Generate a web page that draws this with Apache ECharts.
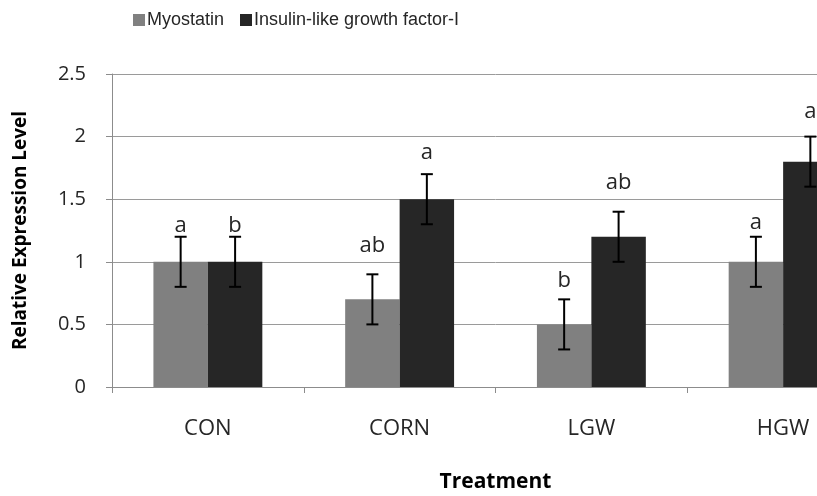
<!DOCTYPE html>
<html>
<head>
<meta charset="utf-8">
<script src="https://cdn.jsdelivr.net/npm/echarts@6/dist/echarts.min.js"></script>
<style>
html,body{margin:0;padding:0;background:#fff;overflow:hidden;width:817px;height:496px;}
#c{width:879px;height:496px;}
</style>
</head>
<body>
<div id="c"></div>
<script>
var categories = ['CON', 'CORN', 'LGW', 'HGW'];
var seriesNames = ['Myostatin', 'Insulin-like growth factor-I'];
var myostatin = [1.0, 0.7, 0.5, 1.0];
var igf = [1.0, 1.5, 1.2, 1.8];
var myostatinErr = [0.2, 0.2, 0.2, 0.2];
var igfErr = [0.2, 0.2, 0.2, 0.2];
var myostatinLetters = ['a', 'ab', 'b', 'a'];
var igfLetters = ['b', 'a', 'ab', 'a'];
var myostatinLetterAt = [1.25, 1.09, 0.81, 1.27];
var igfLetterAt = [1.25, 1.83, 1.59, 2.16];
var yTicks = { min: 0, max: 2.5, interval: 0.5 };

var FONT = "'Open Sans', 'DejaVu Sans', sans-serif";
var LEGEND_FONT = "'Liberation Sans', 'Open Sans', sans-serif";
var BAR_W = 0.284;

function errData(vals, errs, at) {
  return vals.map(function (v, i) { return [i, v, errs[i], at[i]]; });
}

function makeRender(side, letters) {
  return function (params, api) {
    var i = api.value(0);
    var v = api.value(1);
    var e = api.value(2);
    var at = api.value(3);
    var letter = letters[params.dataIndex];
    var band = api.size([1, 0])[0];
    var c = api.coord([i, v]);
    var x = c[0] + side * band * BAR_W / 2;
    var yTop = api.coord([i, v + e])[1];
    var yBot = api.coord([i, v - e])[1];
    var yL = api.coord([i, at])[1];
    var cap = 6;
    var st = { stroke: '#000', lineWidth: 2 };
    return {
      type: 'group',
      children: [
        { type: 'line', shape: { x1: x, y1: yTop, x2: x, y2: yBot }, style: st },
        { type: 'line', shape: { x1: x - cap, y1: yTop, x2: x + cap, y2: yTop }, style: st },
        { type: 'line', shape: { x1: x - cap, y1: yBot, x2: x + cap, y2: yBot }, style: st },
        { type: 'text', style: { text: letter, x: x, y: yL + 6, textAlign: 'center', textVerticalAlign: 'bottom', fontSize: 22, fontFamily: FONT, fill: '#262626' } }
      ]
    };
  };
}

var chart = echarts.init(document.getElementById('c'), null, { renderer: 'canvas' });
chart.setOption({
  animation: false,
  backgroundColor: '#fff',
  legend: [
    { data: [seriesNames[0]], left: 133, top: 11, icon: 'rect', itemWidth: 12, itemHeight: 12, padding: 0,
      textStyle: { fontSize: 18, fontFamily: LEGEND_FONT, color: '#262626', padding: [0, 0, 0, -3] } },
    { data: [seriesNames[1]], left: 240, top: 11, icon: 'rect', itemWidth: 12, itemHeight: 12, padding: 0,
      textStyle: { fontSize: 18, fontFamily: LEGEND_FONT, color: '#262626', padding: [0, 0, 0, -3] } }
  ],
  grid: { left: 112, top: 74, right: 0, bottom: 109, containLabel: false, outerBoundsMode: 'none' },
  xAxis: {
    type: 'category',
    data: categories,
    name: 'Treatment',
    nameLocation: 'middle',
    nameGap: 85,
    nameTextStyle: { fontSize: 21, fontWeight: 'bold', fontFamily: FONT, color: '#000' },
    axisLine: { lineStyle: { color: '#8c8c8c', width: 1 } },
    axisTick: { show: true, length: 6, lineStyle: { color: '#8c8c8c' } },
    axisLabel: { fontSize: 22, fontFamily: FONT, color: '#262626', margin: 31 },
    splitLine: { show: false }
  },
  yAxis: {
    type: 'value',
    min: yTicks.min, max: yTicks.max, interval: yTicks.interval,
    name: 'Relative Expression Level',
    nameLocation: 'middle',
    nameGap: 82,
    nameTextStyle: { fontSize: 19, fontWeight: 'bold', fontFamily: FONT, color: '#000' },
    axisLine: { show: true, lineStyle: { color: '#8c8c8c', width: 1 } },
    axisTick: { show: true, length: 6, lineStyle: { color: '#8c8c8c' } },
    axisLabel: { fontSize: 20, fontFamily: FONT, color: '#262626', margin: 26 },
    splitLine: { show: true, lineStyle: { color: '#9a9a9a', width: 1 } }
  },
  series: [
    { name: seriesNames[0], type: 'bar', data: myostatin, barWidth: (BAR_W * 100) + '%', barGap: '0%',
      itemStyle: { color: '#808080' } },
    { name: seriesNames[1], type: 'bar', data: igf, barWidth: (BAR_W * 100) + '%', barGap: '0%',
      itemStyle: { color: '#262626' } },
    { type: 'custom', name: 'errMyo', renderItem: makeRender(-1, myostatinLetters), data: errData(myostatin, myostatinErr, myostatinLetterAt),
      encode: { x: 0, y: 1 }, z: 10, silent: true },
    { type: 'custom', name: 'errIgf', renderItem: makeRender(1, igfLetters), data: errData(igf, igfErr, igfLetterAt),
      encode: { x: 0, y: 1 }, z: 10, silent: true }
  ]
});
</script>
</body>
</html>
